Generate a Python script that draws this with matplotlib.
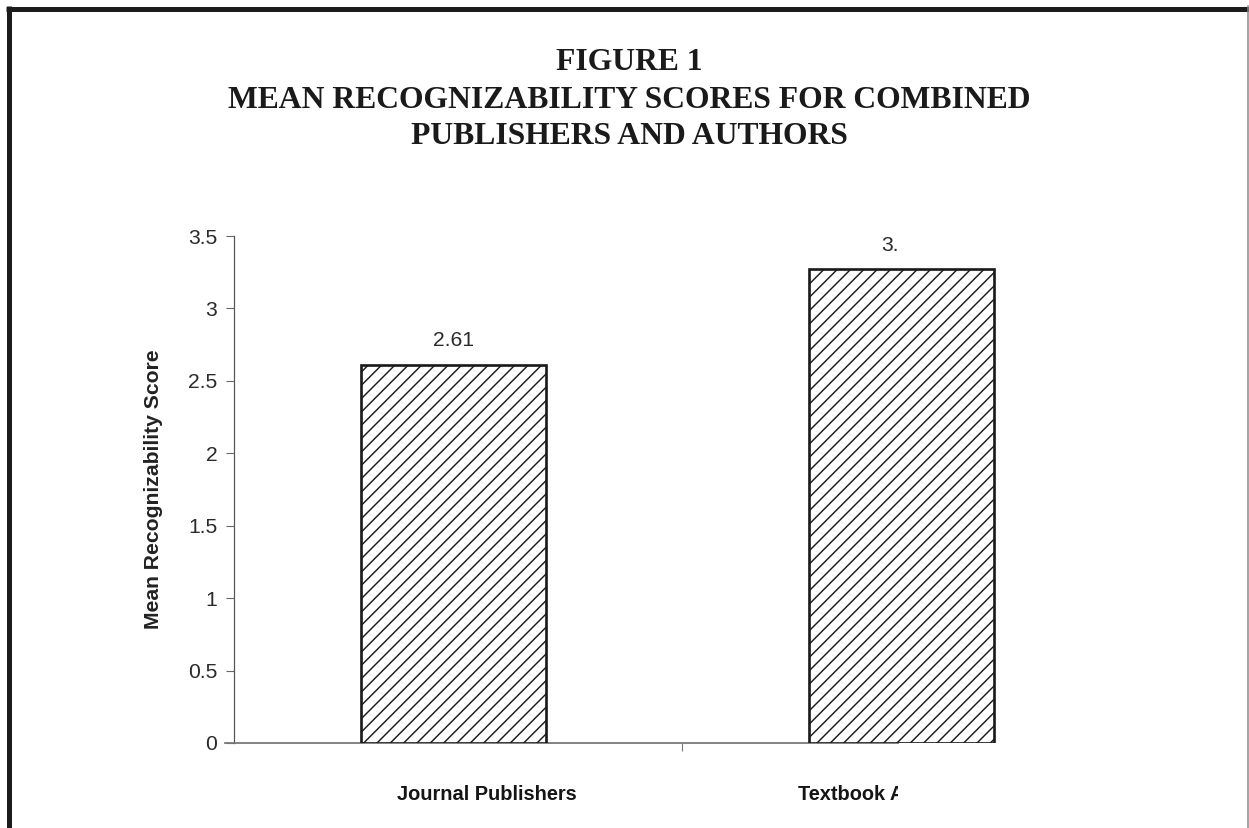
import matplotlib
matplotlib.use("Agg")
import matplotlib.pyplot as plt
from matplotlib.lines import Line2D
from matplotlib.transforms import Bbox, TransformedBbox

# 数据
categories = ["Journal Publishers", "Textbook Authors"]
mean_scores = [2.61, 3.27]
y_ticks = [0, 0.5, 1, 1.5, 2, 2.5, 3, 3.5]
title_lines = ["FIGURE 1",
               "MEAN RECOGNIZABILITY SCORES FOR COMBINED",
               "PUBLISHERS AND AUTHORS"]

W, H, DPI = 1249, 828, 80
plt.rcParams["font.family"] = ["Liberation Sans", "DejaVu Sans"]
plt.rcParams["hatch.linewidth"] = 1.3
plt.rcParams["hatch.color"] = "black"

fig = plt.figure(figsize=(W / DPI, H / DPI), dpi=DPI)
fig.patch.set_facecolor("white")

# 外框：左、上粗黑线，右侧细灰线
fig.add_artist(Line2D([8.5 / W, 8.5 / W], [0, 1 - 6 / H], transform=fig.transFigure,
                      color="#1c1c1c", lw=5 * 72 / DPI, solid_capstyle="butt"))
fig.add_artist(Line2D([6 / W, 1], [1 - 8.5 / H, 1 - 8.5 / H], transform=fig.transFigure,
                      color="#1c1c1c", lw=5 * 72 / DPI, solid_capstyle="butt"))
fig.add_artist(Line2D([1247.5 / W, 1247.5 / W], [0, 1 - 6 / H], transform=fig.transFigure,
                      color="#888888", lw=1.5 * 72 / DPI))

# 标题
for txt, ypx in zip(title_lines, [62, 101, 137]):
    fig.text(629 / W, 1 - ypx / H, txt, ha="center", va="center",
             family="Liberation Serif", weight="bold", fontsize=28.5, color="#1a1a1a")

ax = fig.add_axes([234 / W, 85 / H, 896 / W, 507 / H])
x = [i - 0.01 for i in range(len(categories))]
bars = ax.bar(x, mean_scores, width=0.415, color="white", edgecolor="#1a1a1a",
              linewidth=2.4, hatch="//", zorder=3)

ax.set_xlim(-0.5, 1.5)
ax.set_ylim(0, 3.5)
ax.set_yticks(y_ticks)
ax.set_yticklabels([f"{t:g}" for t in y_ticks])
ax.tick_params(axis="y", direction="out", length=7, width=1, color="#666666",
               pad=8, labelsize=19, labelcolor="#2a2a2a")

# 类别之间的分隔刻度
ax.set_xticks([0.5])
ax.set_xticklabels([""])
ax.tick_params(axis="x", direction="out", length=7, width=1, color="#777777")

for s in ["top", "right"]:
    ax.spines[s].set_visible(False)
ax.spines["left"].set_color("#555555")
ax.spines["left"].set_linewidth(1.1)
ax.spines["bottom"].set_color("#777777")
ax.spines["bottom"].set_linewidth(1.6)
ax.spines["bottom"].set_bounds(-0.52, 0.982)

ax.set_ylabel("Mean Recognizability Score", fontsize=19, weight="bold",
              color="#222222")
ax.yaxis.set_label_coords(-71 / 896, 0.5)

# 右侧裁切区域
clip = TransformedBbox(Bbox([[0, 0], [898 / W, 1]]), fig.transFigure)

# 类别名称的位置（相对类别中心略有偏移）
label_x = [0.065, 0.946]
for lx, name in zip(label_x, categories):
    t = ax.text(lx, -52 / 507 * 3.5, name, ha="center", va="center", fontsize=18,
                weight="bold", color="#151515")
    t.set_clip_on(True)
    t.set_clip_box(clip)

for b, v in zip(bars, mean_scores):
    t = ax.text(b.get_x() + b.get_width() / 2, v + 0.1, f"{v:.2f}", ha="center",
                va="bottom", fontsize=19, color="#2a2a2a")
    t.set_clip_on(True)
    t.set_clip_box(clip)

fig.savefig("out.png", dpi=DPI, facecolor="white")
